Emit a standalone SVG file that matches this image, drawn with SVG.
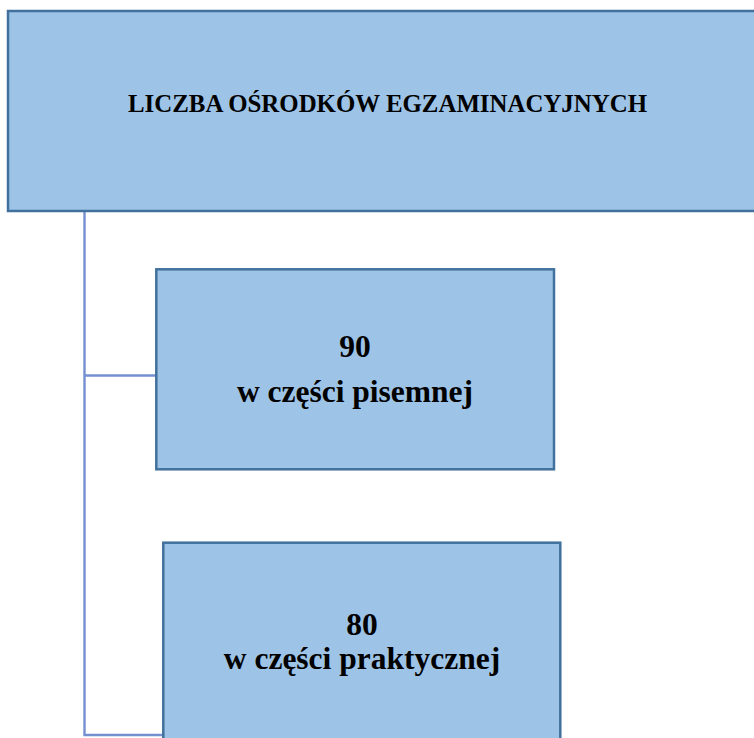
<svg xmlns="http://www.w3.org/2000/svg" width="754" height="738" viewBox="0 0 754 738">
<style>
.box{fill:#9DC3E6;stroke:#41719C;stroke-width:2.5}
.t{font-family:"Liberation Serif","Times New Roman",serif;font-weight:bold;fill:#000;text-anchor:middle}
.conn{stroke:#7590D0;stroke-width:2.4;fill:none}
</style>
<rect width="754" height="738" fill="#FFFFFF"/>
<g id="connectors">
<polyline class="conn" points="84.5,211 84.5,735 163,735"/>
<line class="conn" x1="84.5" y1="375.5" x2="156" y2="375.5"/>
</g>
<g id="node-top">
<rect class="box" x="8" y="11" width="760" height="200"/>
<text class="t" x="387.5" y="112" font-size="26" textLength="519" lengthAdjust="spacingAndGlyphs">LICZBA OŚRODKÓW EGZAMINACYJNYCH</text>
</g>
<g id="node-pisemna">
<rect class="box" x="156.3" y="269.3" width="397.7" height="200"/>
<text class="t" x="355" y="356.5" font-size="31.5">90</text>
<text class="t" x="355" y="401.5" font-size="31.5">w części pisemnej</text>
</g>
<g id="node-praktyczna">
<rect class="box" x="163.3" y="542.7" width="397" height="210"/>
<text class="t" x="362" y="634.5" font-size="31.5">80</text>
<text class="t" x="362" y="668.5" font-size="31.5">w części praktycznej</text>
</g>
</svg>
